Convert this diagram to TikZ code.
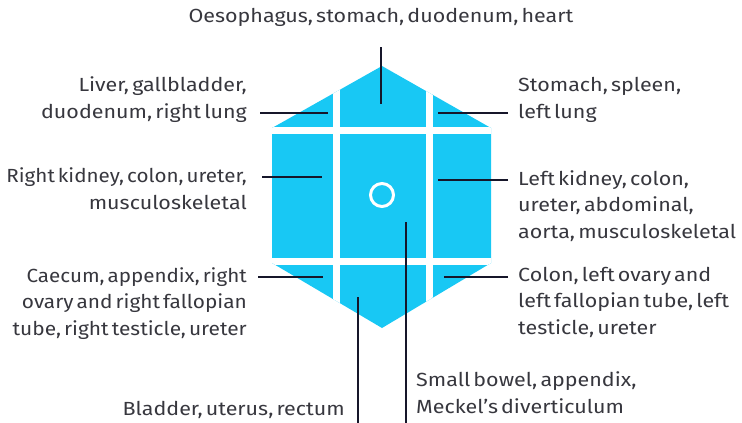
\documentclass[tikz,border=0pt]{standalone}
\usepackage{fontspec}
\setmainfont[WordSpace=0.55, FakeStretch=1.13]{Fira Sans}
\usepackage{graphicx}
\definecolor{organblue}{RGB}{24,200,244}
\definecolor{leaderdark}{RGB}{22,22,42}
\definecolor{labelgrey}{RGB}{55,55,62}
\usetikzlibrary{positioning,calc}

\newcommand{\sqz}[2]{\scalebox{#1}[1]{#2}}

\begin{document}
\begin{tikzpicture}[x=1pt, y=-1pt,
    lbltext/.style={font=\fontsize{19}{26.5}\selectfont, text=labelgrey, inner sep=0pt},
    lblleft/.style={lbltext, align=right, anchor=base east},
    lblright/.style={lbltext, align=left, anchor=base west},
    gapline/.style={draw=white, line width=7pt},
    leaderline/.style={draw=leaderdark, line width=2pt}]

\useasboundingbox (0,0) rectangle (742,423);

% Abdomen outline
\coordinate (hT) at (382,66);
\coordinate (hUR) at (491,128);
\coordinate (hLR) at (491,263);
\coordinate (hB) at (382,328);
\coordinate (hLL) at (272,263);
\coordinate (hUL) at (272,128);
\fill[organblue] (hT) -- (hUR) -- (hLR) -- (hB) -- (hLL) -- (hUL) -- cycle;

% Gaps between the nine regions
\begin{scope}
  \clip (hT) -- (hUR) -- (hLR) -- (hB) -- (hLL) -- (hUL) -- cycle;
  \draw[gapline] (336,40) -- (336,350);
  \draw[gapline] (429,40) -- (429,350);
  \draw[gapline] (250,130) -- (510,130);
  \draw[gapline] (250,261) -- (510,261);
\end{scope}
\node[draw=white, line width=3pt, circle, minimum size=23pt, inner sep=0pt] (navel) at (382,195) {};

% Labels (base = last line)
\node[lbltext, anchor=base] (top) at (381,22) {Oesophagus, stomach, duodenum, heart};
\node[lblleft] (ul) at (247,118) {Liver, gallbladder,\\duodenum, right lung};
\node[lblleft] (ml) at (247,209) {\sqz{0.96}{Right kidney, colon, ureter,}\\musculoskeletal};
\node[lblleft] (ll) at (247,335) {\sqz{0.96}{Caecum, appendix, right}\\\sqz{0.97}{ovary and right fallopian}\\\sqz{0.975}{tube, right testicle, ureter}};
\node[lblleft] (bl) at (345,415) {Bladder, uterus, rectum};
\node[lblright] (ur) at (518,118) {Stomach, spleen,\\left lung};
\node[lblright] (mr) at (518,238) {Left kidney, colon,\\ureter, abdominal,\\aorta, musculoskeletal};
\node[lblright] (lr) at (518,334) {Colon, left ovary and\\left fallopian tube, left\\testicle, ureter};
\node[lblright] (br) at (416,413) {Small bowel, appendix,\\Meckel's diverticulum};

% Leader ends
\coordinate (top-out) at (381,47);  \coordinate (top-in) at (381,104);
\coordinate (ul-out) at (260,113);  \coordinate (ul-in) at (328,113);
\coordinate (ur-out) at (508,113);  \coordinate (ur-in) at (438,113);
\coordinate (ml-out) at (262,177);  \coordinate (ml-in) at (322,177);
\coordinate (mr-out) at (508,180);  \coordinate (mr-in) at (438,180);
\coordinate (ll-out) at (258,277);  \coordinate (ll-in) at (323,277);
\coordinate (lr-out) at (508,277);  \coordinate (lr-in) at (444,277);
\coordinate (bl-out) at (358,423);  \coordinate (bl-in) at (358,297);
\coordinate (br-out) at (406,423);  \coordinate (br-in) at (406,222);

% Leaders
\draw[leaderline] (top-out) -- (top-in);
\draw[leaderline] (ul-out) -- (ul-in);
\draw[leaderline] (ur-out) -- (ur-in);
\draw[leaderline] (ml-out) -- (ml-in);
\draw[leaderline] (mr-out) -- (mr-in);
\draw[leaderline] (ll-out) -- (ll-in);
\draw[leaderline] (lr-out) -- (lr-in);
\draw[leaderline] (bl-out) -- (bl-in);
\draw[leaderline] (br-out) -- (br-in);
\end{tikzpicture}
\end{document}
